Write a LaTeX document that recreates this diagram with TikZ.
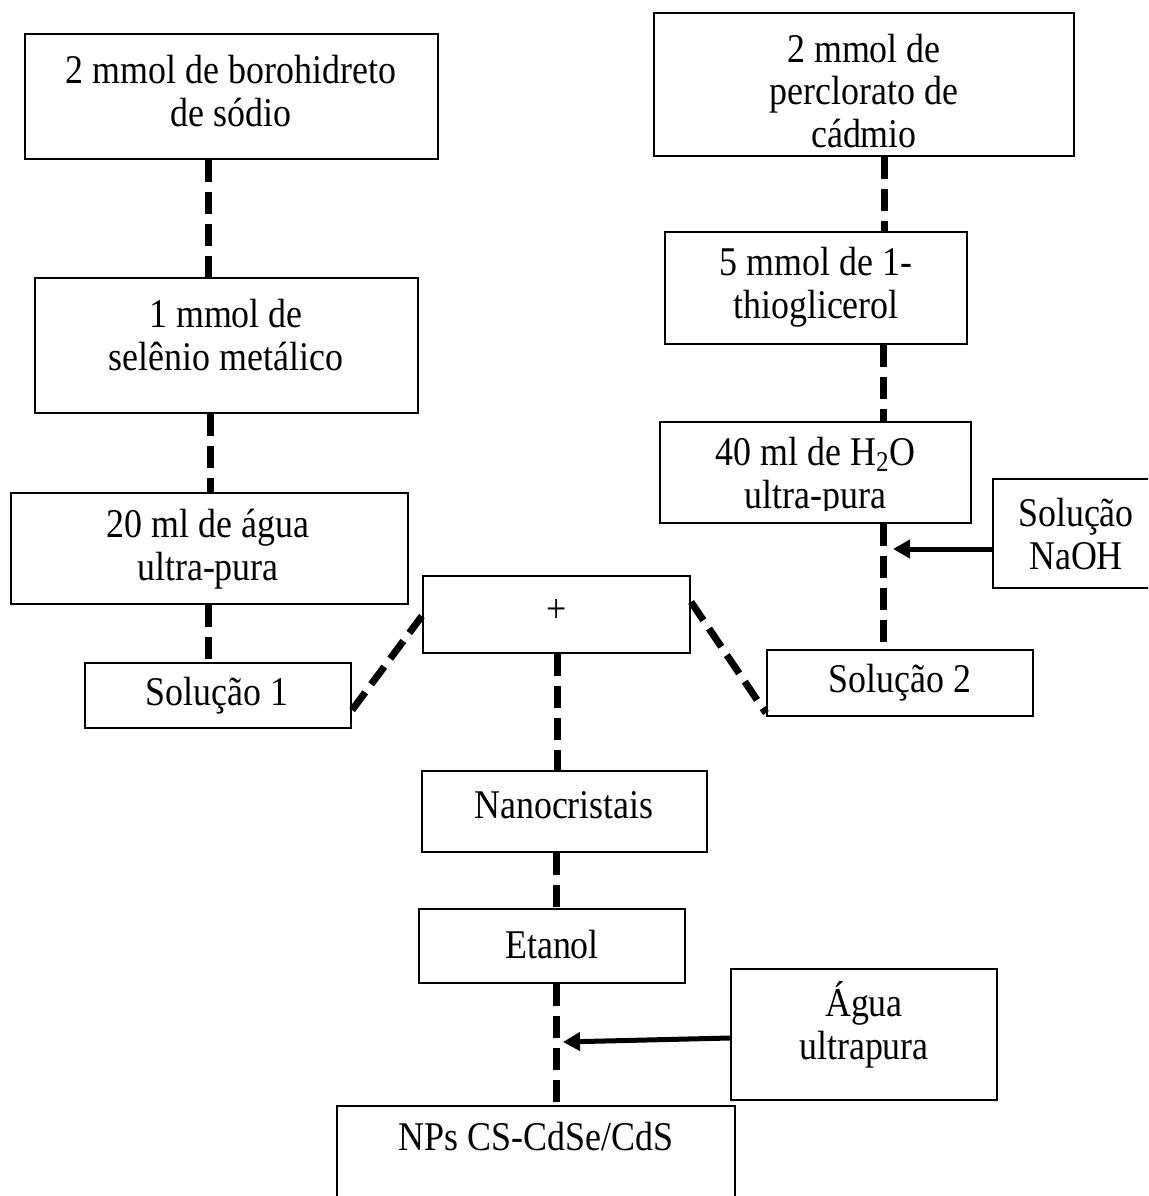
\documentclass[tikz,border=0pt]{standalone}
\usepackage{fontspec}
\setmainfont{Liberation Serif}[FakeStretch=0.88]
\usetikzlibrary{arrows.meta}
\begin{document}
\begin{tikzpicture}[x=0.5pt,y=-0.5pt,
  box/.style={draw, line width=1.1pt, inner sep=0pt},
  txt/.style={inner sep=0pt, align=center, font=\fontsize{20.4}{21.25}\selectfont},
  dline/.style={line width=3.5pt, dash pattern=on 11pt off 5pt},
  arr/.style={line width=2.5pt, -{Triangle[length=8.5pt,width=9pt]}}]
\useasboundingbox (0,0) rectangle (1148,1196);
\clip (0,0) rectangle (1148,1196);
% boxes
\node[box, minimum width=206.5pt, minimum height=62.5pt] (b1) at (231.5,96.5) {};
\node[box, minimum width=191.5pt, minimum height=67.5pt] (b2) at (226.5,345.5) {};
\node[box, minimum width=198.5pt, minimum height=55.5pt] (b3) at (209.5,548.5) {};
\node[box, minimum width=133pt, minimum height=32.5pt] (s1) at (218,695.5) {};
\node[box, minimum width=133.5pt, minimum height=38.5pt] (plus) at (556.5,614.5) {};
\node[box, minimum width=142.5pt, minimum height=40.5pt] (nano) at (564.5,811.5) {};
\node[box, minimum width=133pt, minimum height=37pt] (etanol) at (552,946) {};
\node[box, minimum width=199pt, minimum height=72pt] (nps) at (536,1178) {};
\node[box, minimum width=133pt, minimum height=65.5pt] (agua) at (864,1034.5) {};
\node[box, minimum width=210pt, minimum height=71.5pt] (perc) at (864,84.5) {};
\node[box, minimum width=151pt, minimum height=56pt] (thio) at (816,288) {};
\node[box, minimum width=155.5pt, minimum height=50.5pt] (h2o) at (815.5,472.5) {};
\node[box, minimum width=88.5pt, minimum height=54.5pt] (naoh) at (1081.5,533.5) {};
\node[box, minimum width=133pt, minimum height=33pt] (s2) at (900,683) {};
% texts
\node[txt] (tb1) at (231,91) {2 mmol de borohidreto\\de sódio};
\node[txt] (tb2) at (226,335) {1 mmol de\\selênio metálico};
\node[txt] (tb3) at (208,549) {20 ml de água\\ultra-pura};
\node[txt] (ts1) at (217,696) {Solução 1};
\node[txt] (tplus) at (557,611) {+};
\node[txt] (tnano) at (564,805) {Nanocristais};
\node[txt] (tetanol) at (552,945) {Etanol};
\node[txt] (tnps) at (536,1137) {NPs CS-CdSe/CdS};
\node[txt] (tagua) at (864,1025) {Água\\ultrapura};
\node[txt] (tperc) at (864,91) {2 mmol de\\perclorato de\\cádmio};
\node[txt] (tthio) at (816,287) {5 mmol de 1-\\thioglicerol};
\begin{scope}
\clip (660,422) rectangle (971,510);
\node[txt] (th2o) at (815.5,477) {40 ml de H\textsubscript{2}O\\ultra-pura};
\end{scope}
\node[txt] (tnaoh) at (1076,534) {Solução\\NaOH};
\node[txt] (ts2) at (900,683) {Solução 2};
% dashed connectors
\draw[dline] (b1.south -| 208,0) -- (b2.north -| 208,0);
\draw[dline] (b2.south -| 210,0) -- (b3.north -| 210,0);
\draw[dline] (b3.south -| 208,0) -- (s1.north -| 208,0);
\draw[dline] (s1.east |- 0,710) -- (plus.west |- 0,616);
\draw[dline] (plus.east |- 0,602) -- (s2.west |- 0,713);
\draw[dline] (plus.south -| 557,0) -- (nano.north -| 557,0);
\draw[dline] (nano.south -| 556,0) -- (etanol.north -| 556,0);
\draw[dline] (etanol.south -| 556,0) -- (nps.north -| 556,0);
\draw[dline] (perc.south -| 884,0) -- (thio.north -| 884,0);
\draw[dline] (thio.south -| 883,0) -- (h2o.north -| 883,0);
\draw[dline] (h2o.south -| 883,0) -- (s2.north -| 883,0);
% arrows
\coordinate (m1) at (893,549);
\coordinate (m2) at (563,1042);
\draw[arr] (naoh.west |- 0,549) -- (m1);
\draw[arr] (agua.west |- 0,1038) -- (m2);
\end{tikzpicture}
\end{document}
